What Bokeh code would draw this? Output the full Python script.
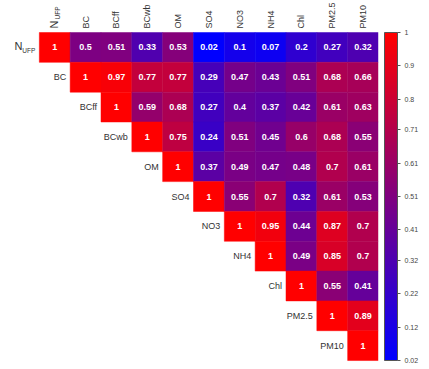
import numpy as np
from bokeh.plotting import figure
from bokeh.models import ColumnDataSource, LinearColorMapper, ColorBar, FixedTicker, Range1d
from bokeh.embed import file_html
from bokeh.resources import INLINE
from bokeh.core.properties import value

labels = ["N_UFP", "BC", "BCff", "BCwb", "OM", "SO4", "NO3", "NH4", "Chl", "PM2.5", "PM10"]
row_nufp = [1, 0.5, 0.51, 0.33, 0.53, 0.02, 0.1, 0.07, 0.2, 0.27, 0.32]
row_bc = [1, 0.97, 0.77, 0.77, 0.29, 0.47, 0.43, 0.51, 0.68, 0.66]
row_bcff = [1, 0.59, 0.68, 0.27, 0.4, 0.37, 0.42, 0.61, 0.63]
row_bcwb = [1, 0.75, 0.24, 0.51, 0.45, 0.6, 0.68, 0.55]
row_om = [1, 0.37, 0.49, 0.47, 0.48, 0.7, 0.61]
row_so4 = [1, 0.55, 0.7, 0.32, 0.61, 0.53]
row_no3 = [1, 0.95, 0.44, 0.87, 0.7]
row_nh4 = [1, 0.49, 0.85, 0.7]
row_chl = [1, 0.55, 0.41]
row_pm25 = [1, 0.89]
row_pm10 = [1]
rows = [row_nufp, row_bc, row_bcff, row_bcwb, row_om, row_so4, row_no3, row_nh4, row_chl, row_pm25, row_pm10]
cb_ticks = [0.02, 0.12, 0.22, 0.32, 0.41, 0.51, 0.61, 0.71, 0.8, 0.9, 1]
cb_tick_labels = ["0.02", "0.12", "0.22", "0.32", "0.41", "0.51", "0.61", "0.71", "0.8", "0.9", "1"]

xs, ys, vs, ts = [], [], [], []
for i, r in enumerate(rows):
    for k, v in enumerate(r):
        j = i + k
        xs.append(j + 0.5)
        ys.append(i + 0.5)
        vs.append(v)
        ts.append(("%g" % v))
src = ColumnDataSource(dict(x=xs, y=ys, v=vs, t=ts))

palette = []
for t in np.linspace(0, 1, 256):
    palette.append("#%02x%02x%02x" % (int(round(255 * t)), 0, int(round(255 * (1 - t)))))
mapper = LinearColorMapper(palette=palette, low=0.02, high=1)

FONT = "Liberation Sans"
p = figure(frame_width=370, frame_height=366, min_border=0, min_border_left=8,
           x_range=Range1d(-1, 11), y_range=Range1d(11.2, -1.074),
           output_backend="svg", toolbar_location=None)
p.axis.visible = False
p.grid.visible = False
p.outline_line_color = None

p.rect(x="x", y="y", width=1, height=1, source=src,
       fill_color={"field": "v", "transform": mapper},
       line_color={"field": "v", "transform": mapper}, line_width=0.5)
p.text(x="x", y="y", text="t", source=src, text_color="white",
       text_font=value(FONT), text_font_style="bold", text_font_size="9px",
       text_align="center", text_baseline="middle")

# row labels (diagonal) and column labels
rl_x, rl_y, rl_t = [], [], []
cl_x, cl_t = [], []
for i, lab in enumerate(labels):
    if lab == "N_UFP":
        continue
    rl_x.append(i); rl_y.append(i + 0.5); rl_t.append(lab)
    cl_x.append(i + 0.5); cl_t.append(lab)
p.text(x=rl_x, y=rl_y, text=rl_t, text_align="right", text_baseline="middle",
       x_offset=-4, text_color="#333333", text_font=value(FONT), text_font_size="9px")
p.text(x=cl_x, y=[0] * len(cl_x), text=cl_t, angle=np.pi / 2, text_align="left",
       text_baseline="middle", y_offset=-4, text_color="#333333",
       text_font=value(FONT), text_font_size="9px")

# N_UFP with subscript
p.text(x=[0], y=[0.5], text=["N"], text_align="right", text_baseline="middle",
       x_offset=-17, y_offset=-1, text_color="#333333", text_font=value(FONT), text_font_size="11px")
p.text(x=[0], y=[0.5], text=["UFP"], text_align="right", text_baseline="middle",
       x_offset=-4, y_offset=3, text_color="#333333", text_font=value(FONT), text_font_size="6.5px")
p.text(x=[0.5], y=[0], text=["N"], angle=np.pi / 2, text_align="left", text_baseline="middle",
       y_offset=-4, x_offset=-1, text_color="#333333", text_font=value(FONT), text_font_size="11px")
p.text(x=[0.5], y=[0], text=["UFP"], angle=np.pi / 2, text_align="left", text_baseline="middle",
       y_offset=-13, x_offset=3, text_color="#333333", text_font=value(FONT), text_font_size="6.5px")

cb = ColorBar(color_mapper=mapper, ticker=FixedTicker(ticks=cb_ticks),
              major_label_overrides={t: l for t, l in zip(cb_ticks, cb_tick_labels)},
              width=13, height=328, location="bottom_left", margin=0, padding=6,
              major_tick_in=0, major_tick_out=3, major_tick_line_color="#555555",
              minor_tick_line_color=None, bar_line_color="#555555", bar_line_width=1,
              label_standoff=4, major_label_text_font_size="7px",
              major_label_text_color="#444444", major_label_text_font=FONT)
p.add_layout(cb, "right")

open("out.html", "w").write(file_html(p, INLINE))
